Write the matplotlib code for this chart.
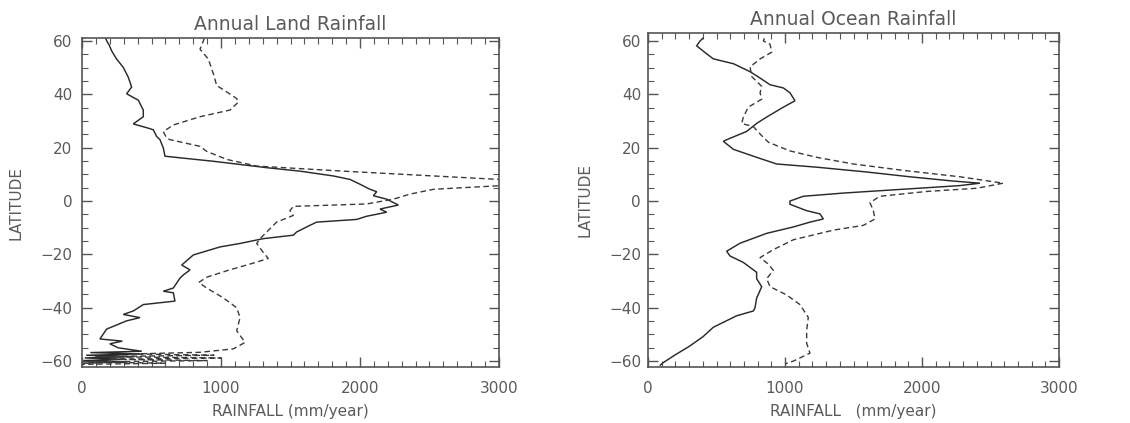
import matplotlib
matplotlib.use("Agg")
import matplotlib.pyplot as plt
from matplotlib.ticker import MultipleLocator

# ---- data: (latitude, rainfall mm/year) ----
land_solid_lat = [61, 60, 58.5, 56.3, 53.2, 50.1, 46.4, 42.7, 40.2, 37.8, 34.1, 31.6, 28.9, 27.3, 26.7,
                  24.2, 23.0, 19.9, 16.8, 16.2, 14.9, 13.7, 12.5, 11.2, 9.4, 8.1, 6.3, 4.4, 3.5, 2.0,
                  0.7, -1.5, -3.0, -4.2, -5.7, -6.9, -7.9, -9.1, -11.6, -12.8, -14.1, -15.9, -17.2,
                  -20.2, -24.0, -25.8, -27.7, -28.9, -32.6, -33.8, -34.4, -37.5, -38.8, -41.2, -42.5,
                  -43.7, -44.9, -48.0, -51.7, -52.5, -53.5, -55.0, -56.3, -56.8, -57.3, -57.8, -58.3,
                  -58.8, -59.3, -59.8, -60.3, -60.8]
land_solid_val = [170, 178, 195, 213, 249, 297, 333, 357, 321, 405, 441, 441, 369, 477, 513,
                  537, 561, 585, 597, 705, 945, 1137, 1329, 1568, 1808, 1928, 2000, 2072, 2120, 2096,
                  2192, 2276, 2144, 2192, 2048, 1976, 1688, 1640, 1544, 1520, 1304, 1137, 993,
                  801, 717, 777, 729, 705, 657, 585, 657, 669, 441, 369, 297,
                  417, 321, 177, 129, 290, 200, 260, 430, 60, 420, 30, 380,
                  20, 300, 10, 330, 0]

land_dash_lat = [61, 60, 56.9, 53.2, 47.7, 43.3, 40.9, 38.4, 37.1, 34.1, 31.6, 28.5, 26.0, 23.6, 23.0,
                 20.5, 18.6, 15.6, 13.1, 11.2, 9.4, 8.1, 7.0, 5.7, 4.4, 2.6, 0.7, -1.1, -2.0, -3.6,
                 -5.4, -7.9, -11.6, -14.1, -15.9, -19.0, -21.5, -23.0, -26.0, -28.5, -30.5, -32.6,
                 -36.3, -40.0, -43.7, -48.6, -53.0, -55.4, -56.7, -57.3, -57.8, -58.3, -58.8, -59.3,
                 -59.8, -60.3, -60.8, -61.2]
land_dash_val = [880, 873, 849, 909, 945, 969, 1041, 1113, 1125, 1065, 849, 657, 585, 609, 633,
                 849, 897, 1041, 1257, 1880, 2528, 3000, 3150, 2990, 2528, 2360, 2240, 2048, 1520, 1496,
                 1520, 1400, 1329, 1281, 1257, 1300, 1340, 1250, 1050, 900, 840, 897,
                 1017, 1113, 1137, 1113, 1173, 1089, 849, 369, 950, 100, 1000, 200,
                 900, 50, 600, 0]

ocean_solid_lat = [61, 60, 58.2, 55.2, 53.3, 51.5, 48.5, 46.1, 43.6, 42.4, 40.6, 37.6, 35.2, 31.5, 29.1,
                   26.1, 23.0, 22.4, 19.4, 16.4, 13.9, 12.7, 10.9, 9.1, 7.5, 6.7, 5.8, 4.2, 3.0, 1.8,
                   0.0, -1.2, -3.6, -4.8, -6.7, -7.9, -9.7, -12.1, -15.8, -18.8, -20.6, -23.0, -26.7,
                   -29.1, -32.1, -36.4, -40.0, -41.2, -43.0, -47.3, -50.9, -54.5, -57.6, -60.6, -61.5]
ocean_solid_val = [400, 380, 355, 428, 477, 623, 745, 818, 891, 988, 1036, 1073, 988, 866, 793,
                   720, 574, 550, 623, 793, 939, 1231, 1596, 1912, 2228, 2423, 2277, 1791, 1426, 1134,
                   1036, 1036, 1158, 1255, 1280, 1182, 1061, 866, 672, 574, 599, 696, 793,
                   793, 830, 793, 781, 769, 647, 477, 400, 300, 200, 110, 90]

ocean_dash_lat = [61, 60, 58.8, 55.8, 53.3, 50.3, 46.7, 43.0, 40.6, 38.2, 35.2, 31.5, 29.1, 27.9, 24.5,
                  22.0, 18.8, 16.4, 13.9, 11.5, 9.1, 6.7, 4.8, 3.6, 1.8, -0.6, -3.6, -6.7, -9.1,
                  -10.9, -14.5, -18.2, -21.2, -23.6, -26.0, -29.1, -32.1, -35.2, -38.8, -43.6, -48.5,
                  -53.3, -57.0, -58.8, -60.0, -61.0]
ocean_dash_val = [850, 842, 891, 903, 818, 745, 757, 830, 818, 830, 732, 696, 684, 769, 830,
                  880, 1036, 1231, 1499, 1864, 2277, 2593, 2399, 2034, 1693, 1620, 1645, 1657, 1572,
                  1353, 1061, 915, 818, 878, 915, 866, 891, 1012, 1109, 1170, 1158,
                  1158, 1182, 1109, 1061, 1000]

titles = ["Annual Land Rainfall", "Annual Ocean Rainfall"]
xlabels = ["RAINFALL (mm/year)", "RAINFALL   (mm/year)"]
ylabel = "LATITUDE"
xticks = [0, 1000, 2000, 3000]
yticks = [-60, -40, -20, 0, 20, 40, 60]

TXT = "#5a5a5a"
plt.rcParams['font.family'] = ['DejaVu Sans']

fig = plt.figure(figsize=(11.30, 4.23), dpi=100)
ax1 = fig.add_axes([82 / 1130, 1 - 367 / 423, 417 / 1130, 329 / 423])
ax2 = fig.add_axes([648 / 1130, 1 - 367 / 423, 411 / 1130, 334 / 423])

panels = [
    (ax1, land_solid_val, land_solid_lat, land_dash_val, land_dash_lat, (-62.2, 61.1), 7),
    (ax2, ocean_solid_val, ocean_solid_lat, ocean_dash_val, ocean_dash_lat, (-62.2, 63.0), 5),
]
for i, (ax, sv, sl, dv, dl, ylim, ypad) in enumerate(panels):
    ax.plot(sv, sl, color="#2a2a2a", lw=1.05, solid_joinstyle="miter")
    ax.plot(dv, dl, color="#3a3a3a", lw=1.0, dashes=(4, 2.5))
    ax.set_xlim(0, 3000)
    ax.set_ylim(*ylim)
    ax.set_xticks(xticks)
    ax.set_yticks(yticks)
    ax.xaxis.set_minor_locator(MultipleLocator(100))
    ax.yaxis.set_minor_locator(MultipleLocator(5))
    ax.tick_params(which="both", direction="in", top=True, right=True, color="#555555",
                   labelcolor=TXT, labelsize=11)
    ax.tick_params(axis="x", which="both", pad=10)
    ax.tick_params(axis="y", which="both", pad=ypad)
    ax.tick_params(which="major", length=7, width=1.0)
    ax.tick_params(which="minor", length=4, width=0.8)
    for s in ax.spines.values():
        s.set_color("#555555")
        s.set_linewidth(1.2)
    ax.set_title(titles[i], fontsize=13.5, color=TXT, pad=6)
    ax.set_xlabel(xlabels[i], fontsize=11, color=TXT, labelpad=6)
    ax.set_ylabel(ylabel, fontsize=11, color=TXT, labelpad=12)

fig.savefig("out.png", dpi=100)
